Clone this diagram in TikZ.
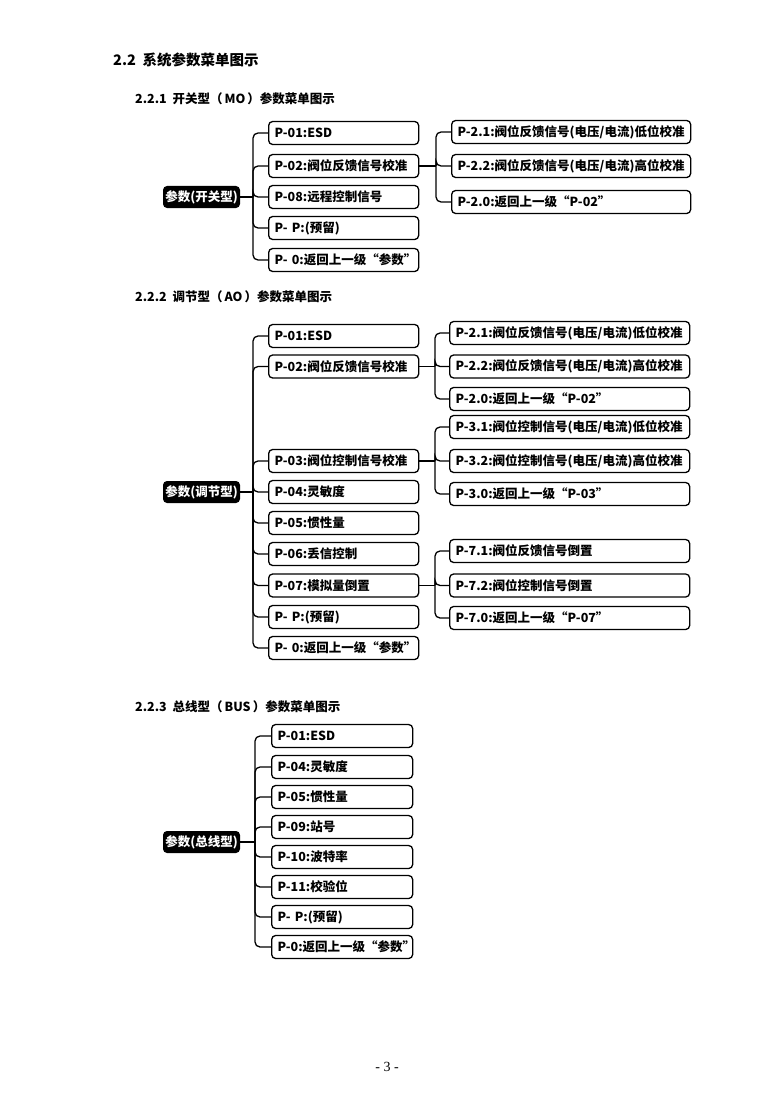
\documentclass[tikz,border=0pt]{standalone}
\usepackage{fontspec}
\setmainfont{Noto Sans CJK SC}
\newfontfamily\pnumfont{Liberation Serif}
\usetikzlibrary{calc}
\tikzset{
  menubox/.style={draw, line width=1.3pt, rounded corners=4pt, minimum height=23pt,
    inner xsep=6pt, inner ysep=0pt, anchor=west, align=left,
    font=\bfseries\fontsize{12.5}{14}\selectfont},
  rootbox/.style={fill=black, text=white, rounded corners=4pt, minimum width=77pt,
    minimum height=22pt, inner sep=0pt, font=\bfseries\fontsize{12.5}{14}\selectfont},
  conn/.style={line width=1.3pt, rounded corners=5pt},
  headA/.style={anchor=west, inner sep=0pt, font=\bfseries\fontsize{14.5}{16}\selectfont},
  headB/.style={anchor=west, inner sep=0pt, font=\bfseries\fontsize{12.5}{14}\selectfont},
}
\begin{document}
\begin{tikzpicture}[x=1pt,y=-1pt]
\path[use as bounding box] (0,0) rectangle (776,1102);

% headings
\node[headA] (h0) at (113,60) {2.2\ \ 系统参数菜单图示};
\node[headB] (h1) at (135,99) {2.2.1\ \ 开关型（\,MO\,）参数菜单图示};
\node[headB] (h2) at (135,297) {2.2.2\ \ 调节型（\,AO\,）参数菜单图示};
\node[headB] (h3) at (135,707) {2.2.3\ \ 总线型（\,BUS\,）参数菜单图示};

% ================= Section 1 =================
\node[rootbox] (r1) at (201.5,197) {参数(开关型)};
\begin{scope}[every node/.append style={menubox, text width=138pt}]
\node (a1) at (268,133) {P-01:ESD};
\node (a2) at (268,166) {P-02:阀位反馈信号校准};
\node (a3) at (268,197) {P-08:远程控制信号};
\node (a4) at (268,228) {\mbox{P-~P:(预留)}};
\node (a5) at (268,260) {\mbox{P-~0:返回上一级“参数”}};
\end{scope}
\begin{scope}[every node/.append style={menubox, text width=227pt}]
\node (b1) at (451,132) {P-2.1:阀位反馈信号(电压/电流)低位校准};
\node (b2) at (451,166) {P-2.2:阀位反馈信号(电压/电流)高位校准};
\node (b3) at (451,202) {P-2.0:返回上一级“P-02”};
\end{scope}
\coordinate (t1) at (253,197);
\draw[conn] (r1.east) -- (t1);
\foreach \c in {a1,a2,a3,a4,a5} \draw[conn] (t1) |- (\c.west);
\coordinate (t1b) at (436,166);
\draw[conn] (a2.east) -- (t1b);
\foreach \c in {b1,b2,b3} \draw[conn] (t1b) |- (\c.west);

% ================= Section 2 =================
\node[rootbox] (r2) at (201.5,492) {参数(调节型)};
\begin{scope}[every node/.append style={menubox, text width=138pt}]
\node (c1) at (268,336) {P-01:ESD};
\node (c2) at (268,366.5) {P-02:阀位反馈信号校准};
\node (c3) at (268,461) {P-03:阀位控制信号校准};
\node (c4) at (268,492) {P-04:灵敏度};
\node (c5) at (268,523) {P-05:惯性量};
\node (c6) at (268,554) {P-06:丢信控制};
\node (c7) at (268,585.5) {P-07:模拟量倒置};
\node (c8) at (268,617) {\mbox{P-~P:(预留)}};
\node (c9) at (268,648) {\mbox{P-~0:返回上一级“参数”}};
\end{scope}
\begin{scope}[every node/.append style={menubox, text width=228pt}]
\node (d1) at (449,333) {P-2.1:阀位反馈信号(电压/电流)低位校准};
\node (d2) at (449,366.5) {P-2.2:阀位反馈信号(电压/电流)高位校准};
\node (d3) at (449,399) {P-2.0:返回上一级“P-02”};
\node (d4) at (449,427) {P-3.1:阀位控制信号(电压/电流)低位校准};
\node (d5) at (449,461) {P-3.2:阀位控制信号(电压/电流)高位校准};
\node (d6) at (449,494) {P-3.0:返回上一级“P-03”};
\node (d7) at (449,551) {P-7.1:阀位反馈信号倒置};
\node (d8) at (449,585.5) {P-7.2:阀位控制信号倒置};
\node (d9) at (449,618) {P-7.0:返回上一级“P-07”};
\end{scope}
\coordinate (t2) at (253,492);
\draw[conn] (r2.east) -- (t2);
\foreach \c in {c1,c2,c3,c4,c5,c6,c7,c8,c9} \draw[conn] (t2) |- (\c.west);
\coordinate (t2a) at (435,366.5);
\draw[conn] (c2.east) -- (t2a);
\foreach \c in {d1,d2,d3} \draw[conn] (t2a) |- (\c.west);
\coordinate (t2b) at (435,461);
\draw[conn] (c3.east) -- (t2b);
\foreach \c in {d4,d5,d6} \draw[conn] (t2b) |- (\c.west);
\coordinate (t2c) at (435,585.5);
\draw[conn] (c7.east) -- (t2c);
\foreach \c in {d7,d8,d9} \draw[conn] (t2c) |- (\c.west);

% ================= Section 3 =================
\node[rootbox] (r3) at (201.5,842) {参数(总线型)};
\begin{scope}[every node/.append style={menubox, text width=129pt}]
\node (e1) at (271,736) {P-01:ESD};
\node (e2) at (271,767) {P-04:灵敏度};
\node (e3) at (271,797) {P-05:惯性量};
\node (e4) at (271,827) {P-09:站号};
\node (e5) at (271,857) {P-10:波特率};
\node (e6) at (271,887) {P-11:校验位};
\node (e7) at (271,917) {\mbox{P-~P:(预留)}};
\node (e8) at (271,947) {\mbox{P-0:返回上一级“参数”}};
\end{scope}
\coordinate (t3) at (255,842);
\draw[conn] (r3.east) -- (t3);
\foreach \c in {e1,e2,e3,e4,e5,e6,e7,e8} \draw[conn] (t3) |- (\c.west);

% page number
\node[font=\pnumfont\fontsize{14}{16}\selectfont] (pg) at (387,1067) {- 3 -};
\end{tikzpicture}
\end{document}
